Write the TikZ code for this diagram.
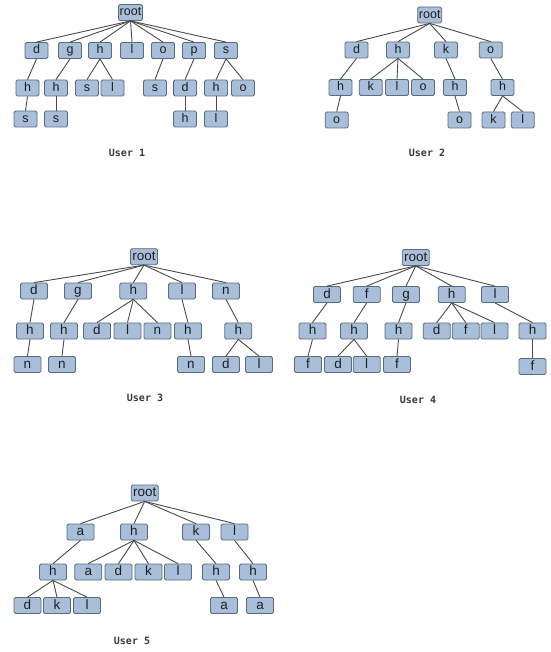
\documentclass[tikz,border=0pt]{standalone}
\usepackage{fontspec}
\setmainfont{Liberation Sans}
\newfontfamily\capfont{DejaVu Sans Mono}
\definecolor{boxfill}{HTML}{A9BFD9}
\definecolor{boxline}{HTML}{5A6A80}
\definecolor{edgecol}{HTML}{4A4A4A}
\definecolor{txtcol}{HTML}{1E1E1E}
\definecolor{capcol}{HTML}{3A3A3A}
\tikzset{
  box/.style={draw=boxline, fill=boxfill, rounded corners=1.5pt, line width=0.8pt,
    inner xsep=1.2pt, inner ysep=0pt, text=txtcol, text height=0.72em, text depth=0.02em},
  sm/.style={box, minimum width=23pt, minimum height=16pt, font=\fontsize{12.5}{12.5}\selectfont},
  bg/.style={box, minimum width=27pt, minimum height=16pt, font=\fontsize{13.5}{13.5}\selectfont},
  edge/.style={draw=edgecol, line width=0.9pt},
  captxt/.style={font=\capfont\bfseries\fontsize{10}{10}\selectfont, text=capcol}
}
\begin{document}
\begin{tikzpicture}[x=1pt,y=-1pt]
\useasboundingbox[fill=white] (0,0) rectangle (550,652);

% ---------------- User 1 ----------------
\node[sm] (u1r) at (130.5,12.5) {root};
\node[sm] (u1d) at (36.5,50.5) {d};
\node[sm] (u1g) at (70,50.5) {g};
\node[sm] (u1h) at (100,50.5) {h};
\node[sm] (u1l) at (132,50.5) {l};
\node[sm] (u1o) at (163,50.5) {o};
\node[sm] (u1p) at (194,50.5) {p};
\node[sm] (u1s) at (226,50.5) {s};
\node[sm] (u1dh) at (27.5,88) {h};
\node[sm] (u1gh) at (56,88) {h};
\node[sm] (u1hs) at (87,88) {s};
\node[sm] (u1hl) at (112.5,88) {l};
\node[sm] (u1os) at (155,88) {s};
\node[sm] (u1pd) at (185,88) {d};
\node[sm] (u1sh) at (216,88) {h};
\node[sm] (u1so) at (243,88) {o};
\node[sm] (u1dhs) at (25.5,119) {s};
\node[sm] (u1ghs) at (56,119) {s};
\node[sm] (u1pdh) at (185,119) {h};
\node[sm] (u1shl) at (216,119) {l};
\foreach \c in {u1d,u1g,u1h,u1l,u1o,u1p,u1s} \draw[edge] (u1r.south) -- (\c.north);
\draw[edge] (u1d.south) -- (u1dh.north);
\draw[edge] (u1g.south) -- (u1gh.north);
\draw[edge] (u1h.south) -- (u1hs.north);
\draw[edge] (u1h.south) -- (u1hl.north);
\draw[edge] (u1o.south) -- (u1os.north);
\draw[edge] (u1p.south) -- (u1pd.north);
\draw[edge] (u1s.south) -- (u1sh.north);
\draw[edge] (u1s.south) -- (u1so.north);
\draw[edge] (u1dh.south) -- (u1dhs.north);
\draw[edge] (u1gh.south) -- (u1ghs.north);
\draw[edge] (u1pd.south) -- (u1pdh.north);
\draw[edge] (u1sh.south) -- (u1shl.north);
\node[captxt] (c1) at (127,153) {User 1};

% ---------------- User 2 ----------------
\node[sm] (u2r) at (429.7,15) {root};
\node[sm] (u2d) at (356.5,50) {d};
\node[sm] (u2h) at (398,50) {h};
\node[sm] (u2k) at (446,50) {k};
\node[sm] (u2o) at (490.7,50) {o};
\node[sm] (u2dh) at (340.5,87.5) {h};
\node[sm] (u2hk) at (370.7,87.5) {k};
\node[sm] (u2hl) at (397,87.5) {l};
\node[sm] (u2ho) at (423,87.5) {o};
\node[sm] (u2kh) at (455,87.5) {h};
\node[sm] (u2oh) at (502.5,87.5) {h};
\node[sm] (u2dho) at (336.7,120) {o};
\node[sm] (u2kho) at (459.5,120) {o};
\node[sm] (u2ohk) at (493.5,120) {k};
\node[sm] (u2ohl) at (522.7,120) {l};
\foreach \c in {u2d,u2h,u2k,u2o} \draw[edge] (u2r.south) -- (\c.north);
\draw[edge] (u2d.south) -- (u2dh.north);
\draw[edge] (u2h.south) -- (u2hk.north);
\draw[edge] (u2h.south) -- (u2hl.north);
\draw[edge] (u2h.south) -- (u2ho.north);
\draw[edge] (u2k.south) -- (u2kh.north);
\draw[edge] (u2o.south) -- (u2oh.north);
\draw[edge] (u2dh.south) -- (u2dho.north);
\draw[edge] (u2kh.south) -- (u2kho.north);
\draw[edge] (u2oh.south) -- (u2ohk.north);
\draw[edge] (u2oh.south) -- (u2ohl.north);
\node[captxt] (c2) at (427,153) {User 2};

% ---------------- User 3 ----------------
\node[bg] (u3r) at (144,256.7) {root};
\node[bg] (u3d) at (34,291) {d};
\node[bg] (u3g) at (78,291) {g};
\node[bg] (u3h) at (133.3,291) {h};
\node[bg] (u3l) at (182,291) {l};
\node[bg] (u3n) at (226,291) {n};
\node[bg] (u3dh) at (30,331) {h};
\node[bg] (u3gh) at (64,331) {h};
\node[bg] (u3hd) at (97,331) {d};
\node[bg] (u3hl) at (127.5,331) {l};
\node[bg] (u3hn) at (157.5,331) {n};
\node[bg] (u3lh) at (188,331) {h};
\node[bg] (u3nh) at (238.3,331) {h};
\node[bg] (u3dhn) at (27.5,364.5) {n};
\node[bg] (u3ghn) at (62,364.5) {n};
\node[bg] (u3lhn) at (191,364.5) {n};
\node[bg] (u3nhd) at (226,364.5) {d};
\node[bg] (u3nhl) at (259,364.5) {l};
\foreach \c in {u3d,u3g,u3h,u3l,u3n} \draw[edge] (u3r.south) -- (\c.north);
\draw[edge] (u3d.south) -- (u3dh.north);
\draw[edge] (u3g.south) -- (u3gh.north);
\draw[edge] (u3h.south) -- (u3hd.north);
\draw[edge] (u3h.south) -- (u3hl.north);
\draw[edge] (u3h.south) -- (u3hn.north);
\draw[edge] (u3l.south) -- (u3lh.north);
\draw[edge] (u3n.south) -- (u3nh.north);
\draw[edge] (u3dh.south) -- (u3dhn.north);
\draw[edge] (u3gh.south) -- (u3ghn.north);
\draw[edge] (u3lh.south) -- (u3lhn.north);
\draw[edge] (u3nh.south) -- (u3nhd.north);
\draw[edge] (u3nh.south) -- (u3nhl.north);
\node[captxt] (c3) at (145,398) {User 3};

% ---------------- User 4 ----------------
\node[bg] (u4r) at (415.7,257.5) {root};
\node[bg] (u4d) at (327,294.5) {d};
\node[bg] (u4f) at (366.7,294.5) {f};
\node[bg] (u4g) at (406,294.5) {g};
\node[bg] (u4h) at (451.7,294.5) {h};
\node[bg] (u4l) at (495,294.5) {l};
\node[bg] (u4dh) at (312.5,331) {h};
\node[bg] (u4fh) at (354,331) {h};
\node[bg] (u4gh) at (398.5,331) {h};
\node[bg] (u4hd) at (436.7,331) {d};
\node[bg] (u4hf) at (465.7,331) {f};
\node[bg] (u4hl) at (494.5,331) {l};
\node[bg] (u4lh) at (532.5,331) {h};
\node[bg] (u4dhf) at (308,364.5) {f};
\node[bg] (u4fhd) at (338,364.5) {d};
\node[bg] (u4fhl) at (366.7,364.5) {l};
\node[bg] (u4ghf) at (397,364.5) {f};
\node[bg] (u4lhf) at (532.5,366.5) {f};
\foreach \c in {u4d,u4f,u4g,u4h,u4l} \draw[edge] (u4r.south) -- (\c.north);
\draw[edge] (u4d.south) -- (u4dh.north);
\draw[edge] (u4f.south) -- (u4fh.north);
\draw[edge] (u4g.south) -- (u4gh.north);
\draw[edge] (u4h.south) -- (u4hd.north);
\draw[edge] (u4h.south) -- (u4hf.north);
\draw[edge] (u4h.south) -- (u4hl.north);
\draw[edge] (u4l.south) -- (u4lh.north);
\draw[edge] (u4dh.south) -- (u4dhf.north);
\draw[edge] (u4fh.south) -- (u4fhd.north);
\draw[edge] (u4fh.south) -- (u4fhl.north);
\draw[edge] (u4gh.south) -- (u4ghf.north);
\draw[edge] (u4lh.south) -- (u4lhf.north);
\node[captxt] (c4) at (418,400) {User 4};

% ---------------- User 5 ----------------
\node[bg] (u5r) at (144.7,493) {root};
\node[bg] (u5a) at (80.5,532) {a};
\node[bg] (u5h) at (134,532) {h};
\node[bg] (u5k) at (196,532) {k};
\node[bg] (u5l) at (234.5,532) {l};
\node[bg] (u5ah) at (53,572) {h};
\node[bg] (u5ha) at (88.3,572) {a};
\node[bg] (u5hd) at (118.5,572) {d};
\node[bg] (u5hk) at (148.5,572) {k};
\node[bg] (u5hl) at (178,572) {l};
\node[bg] (u5kh) at (216,572) {h};
\node[bg] (u5lh) at (253,572) {h};
\node[bg] (u5ahd) at (27.5,605.5) {d};
\node[bg] (u5ahk) at (57,605.5) {k};
\node[bg] (u5ahl) at (87,605.5) {l};
\node[bg] (u5kha) at (224,605.5) {a};
\node[bg] (u5lha) at (260,605.5) {a};
\foreach \c in {u5a,u5h,u5k,u5l} \draw[edge] (u5r.south) -- (\c.north);
\draw[edge] (u5a.south) -- (u5ah.north);
\draw[edge] (u5h.south) -- (u5ha.north);
\draw[edge] (u5h.south) -- (u5hd.north);
\draw[edge] (u5h.south) -- (u5hk.north);
\draw[edge] (u5h.south) -- (u5hl.north);
\draw[edge] (u5k.south) -- (u5kh.north);
\draw[edge] (u5l.south) -- (u5lh.north);
\draw[edge] (u5ah.south) -- (u5ahd.north);
\draw[edge] (u5ah.south) -- (u5ahk.north);
\draw[edge] (u5ah.south) -- (u5ahl.north);
\draw[edge] (u5kh.south) -- (u5kha.north);
\draw[edge] (u5lh.south) -- (u5lha.north);
\node[captxt] (c5) at (132,641) {User 5};
\end{tikzpicture}
\end{document}
